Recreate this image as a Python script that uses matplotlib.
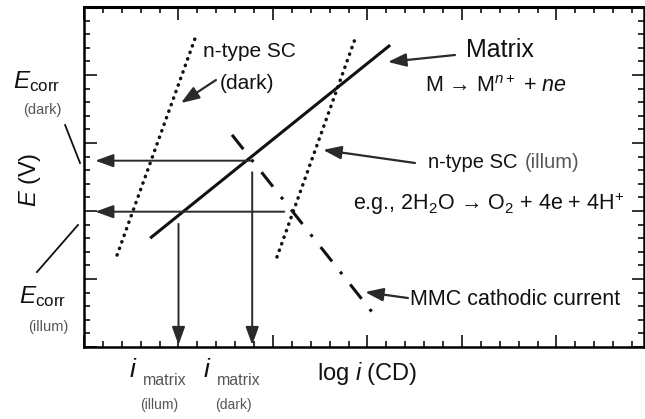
import numpy as np
import matplotlib
matplotlib.use("Agg")
import matplotlib.pyplot as plt

plt.rcParams['font.family'] = ['Liberation Sans', 'DejaVu Sans']
plt.rcParams['mathtext.fontset'] = 'custom'
plt.rcParams['mathtext.rm'] = 'Liberation Sans'
plt.rcParams['mathtext.it'] = 'Liberation Sans:italic'
plt.rcParams['mathtext.bf'] = 'Liberation Sans:bold'

# polarization lines (x = log i in minor-tick units, y = E in minor-tick units)
matrix_x = [3.5, 16.2]
matrix_y = [8.0, 22.2]
sc_dark_x = [1.75, 5.93]
sc_dark_y = [6.76, 22.9]
sc_illum_x = [10.21, 14.34]
sc_illum_y = [6.62, 22.65]
mmc_x = [7.83, 15.24]
mmc_y = [15.6, 2.57]

# corrosion potentials and matrix currents
ecorr_dark = 13.7
ecorr_illum = 9.95
ecorr_dark_from = 8.8     # where the dark E_corr arrow starts on the x axis
ecorr_illum_from = 10.6
i_illum = 5.0
i_dark = 8.9
i_illum_from = 9.05       # where the current arrows start on the y axis
i_dark_from = 12.85

XMAX = 29.63
YMAX = 25

fig = plt.figure(figsize=(6.45, 4.19), dpi=100)
ax = fig.add_axes([84 / 645, 1 - 347 / 419, (644 - 84) / 645, (347 - 7) / 419])
ax.set_xlim(0, XMAX)
ax.set_ylim(0, YMAX)

ax.set_xticks(np.arange(0, XMAX, 5))
ax.set_xticks(np.arange(0, XMAX, 1), minor=True)
ax.set_yticks(np.arange(0, YMAX + 1, 5))
ax.set_yticks(np.arange(0, YMAX + 1, 1), minor=True)
ax.tick_params(which='both', direction='in', top=True, right=True,
               labelbottom=False, labelleft=False, width=1.2, color='#111')
ax.tick_params(which='major', length=9)
ax.tick_params(which='minor', length=4.5)
for s in ax.spines.values():
    s.set_linewidth(1.8)
ax.spines['top'].set_linewidth(2.2)

ink = '#111111'
grey = '#2a2a2a'

ax.plot(matrix_x, matrix_y, color=ink, lw=2.2, solid_capstyle='butt')
ax.plot(sc_dark_x, sc_dark_y, color=ink, lw=2.5, linestyle=(0, (0.1, 1.9)),
        dash_capstyle='round')
ax.plot(sc_illum_x, sc_illum_y, color=ink, lw=2.5, linestyle=(0, (0.1, 1.9)),
        dash_capstyle='round')
ax.plot(mmc_x, mmc_y, color=ink, lw=2.2, linestyle=(0, (6, 4.3, 1, 4.3)))

# E_corr arrows to the potential axis, i_matrix arrows to the current axis
head = dict(arrowstyle='-|>,head_length=0.55,head_width=0.2', color=grey,
            lw=1.4, mutation_scale=20, shrinkA=0, shrinkB=0)
ax.annotate('', xy=(0.6, ecorr_dark), xytext=(ecorr_dark_from, ecorr_dark),
            arrowprops=head)
ax.annotate('', xy=(0.6, ecorr_illum), xytext=(ecorr_illum_from, ecorr_illum),
            arrowprops=head)
ax.annotate('', xy=(i_illum, 0.15), xytext=(i_illum, i_illum_from),
            arrowprops=head)
ax.annotate('', xy=(i_dark, 0.15), xytext=(i_dark, i_dark_from),
            arrowprops=head)

# label pointers
ptr = dict(arrowstyle='-|>,head_length=0.55,head_width=0.2', color=grey,
           lw=1.6, mutation_scale=20, shrinkA=0, shrinkB=0)
ax.annotate('', xy=(5.13, 17.94), xytext=(6.98, 19.63), arrowprops=ptr)
ax.annotate('', xy=(16.08, 20.96), xytext=(19.63, 21.47), arrowprops=ptr)
ax.annotate('', xy=(12.65, 14.49), xytext=(17.51, 13.53), arrowprops=ptr)
ax.annotate('', xy=(14.87, 4.04), xytext=(17.14, 3.6), arrowprops=ptr)

ax.text(6.3, 21.32, 'n-type SC', fontsize=15, color=ink, va='baseline')
ax.text(7.2, 19.41, '(dark)', fontsize=15, color=ink, va='center')
ax.text(20.2, 21.32, 'Matrix', fontsize=18, color=ink, va='baseline')
ax.text(18.04, 18.75, r'M → M$^{n+}$ + $ne$', fontsize=15.5, color=ink,
        va='baseline')
ax.text(18.2, 13.16, 'n-type SC', fontsize=14.5, color=ink, va='baseline')
ax.text(23.3, 13.16, '(illum)', fontsize=14.5, color='#555555', va='baseline')
ax.text(14.23, 10.07, r'e.g., 2H$_2$O → O$_2$ + 4e + 4H$^{+}$', fontsize=15.5,
        color=ink, va='baseline')
ax.text(17.25, 3.09, 'MMC cathodic current', fontsize=15.5, color=ink,
        va='baseline')

# axis labels and marked values outside the frame
ax.text(14.97, -2.43, r'log $i$ (CD)', fontsize=17, color=ink, ha='center',
        va='baseline', clip_on=False)
ax.text(-2.86, 12.28, r'$E$ (V)', fontsize=17, color=ink, rotation=90,
        ha='center', va='center', clip_on=False)

small = '#555555'
for cx, sub in [(i_illum, '(illum)'), (i_dark, '(dark)')]:
    ax.text(cx - 2.4, -2.2, r'$i$', fontsize=19, color=ink, ha='center',
            va='baseline', clip_on=False)
    ax.text(cx - 1.88, -2.79, 'matrix', fontsize=11.5, color=small,
            va='baseline', clip_on=False)
    ax.text(cx - 1.0, -4.26, sub, fontsize=10, color=small, ha='center',
            va='center', clip_on=False)

ax.text(-3.76, 19.04, r'$E_{\mathrm{corr}}$', fontsize=17.5, color=ink,
        va='baseline', clip_on=False)
ax.text(-2.2, 17.43, '(dark)', fontsize=10.5, color=small, ha='center',
        va='center', clip_on=False)
ax.plot([-1.0, -0.21], [16.32, 13.53], color=ink, lw=1.3, clip_on=False)

ax.text(-3.44, 3.24, r'$E_{\mathrm{corr}}$', fontsize=17.5, color=ink,
        va='baseline', clip_on=False)
ax.text(-1.9, 1.47, '(illum)', fontsize=10.5, color=small, ha='center',
        va='center', clip_on=False)
ax.plot([-2.49, -0.32], [5.51, 8.97], color=ink, lw=1.3, clip_on=False)

fig.savefig('out.png', dpi=100)
